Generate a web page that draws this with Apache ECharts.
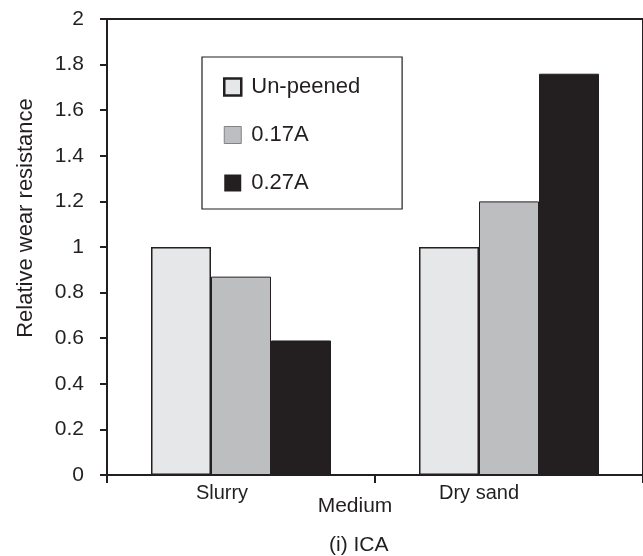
<!DOCTYPE html>
<html>
<head>
<meta charset="utf-8">
<script src="https://cdn.jsdelivr.net/npm/echarts@6/dist/echarts.min.js"></script>
<style>html,body{margin:0;padding:0;background:#fff;}#c{width:643px;height:556px;}</style>
</head>
<body>
<div id="c"></div>
<script>
const categories = ['Slurry', 'Dry sand'];
const seriesNames = ['Un-peened', '0.17A', '0.27A'];
const unPeened = [1.0, 1.0];
const a017 = [0.87, 1.20];
const a027 = [0.59, 1.76];
const yTicks = [0, 0.2, 0.4, 0.6, 0.8, 1, 1.2, 1.4, 1.6, 1.8, 2];

const FONT = "'Liberation Sans', Arial, sans-serif";
const DARK = '#231f20';
const fills = ['#e6e7e8', '#bcbec0', '#231f20'];
const values = [unPeened, a017, a027];

const chart = echarts.init(document.getElementById('c'), null, {renderer: 'canvas'});
chart.setOption({
  animation: false,
  backgroundColor: '#ffffff',
  textStyle: {fontFamily: FONT, color: DARK},
  title: {
    text: '(i) ICA',
    left: 324, top: 530,
    textStyle: {fontFamily: FONT, fontSize: 21, fontWeight: 'normal', color: DARK}
  },
  grid: {
    left: 107, top: 19, width: 538, height: 456,
    show: true, borderWidth: 2, borderColor: DARK, backgroundColor: 'transparent'
  },
  legend: {
    orient: 'vertical',
    left: 202, top: 57,
    padding: [19, 42, 15, 21],
    itemGap: 26,
    itemWidth: 17, itemHeight: 17,
    icon: 'rect',
    borderColor: DARK, borderWidth: 1.2,
    backgroundColor: '#fff',
    textStyle: {fontFamily: FONT, fontSize: 22, color: DARK, padding: [0, 0, 0, 5]},
    data: [
      {name: seriesNames[0], itemStyle: {borderWidth: 2.5, borderColor: DARK}},
      {name: seriesNames[1], itemStyle: {borderWidth: 1, borderColor: '#808285'}},
      {name: seriesNames[2], itemStyle: {borderWidth: 0}}
    ]
  },
  xAxis: {
    type: 'category',
    data: categories,
    name: 'Medium',
    nameLocation: 'middle',
    nameGap: 21,
    nameMoveOverlap: false,
    nameTextStyle: {fontFamily: FONT, fontSize: 21, color: DARK, padding: [0, 40, 0, 0]},
    axisLine: {lineStyle: {color: DARK, width: 2}},
    axisTick: {show: true, length: 8, lineStyle: {color: DARK, width: 2}},
    axisLabel: {
      margin: 8,
      fontFamily: FONT, fontSize: 20, color: DARK,
      formatter: function (v, i) { return '{c' + i + '|' + v + '}'; },
      rich: {
        c0: {fontFamily: FONT, fontSize: 20, color: DARK, padding: [0, 38, 0, 0]},
        c1: {fontFamily: FONT, fontSize: 20, color: DARK, padding: [0, 60, 0, 0]}
      }
    },
    splitLine: {show: false}
  },
  yAxis: {
    type: 'value',
    min: yTicks[0], max: yTicks[yTicks.length - 1], interval: 0.2,
    name: 'Relative wear resistance',
    nameLocation: 'middle',
    nameGap: 70,
    nameRotate: 90,
    nameTextStyle: {fontFamily: FONT, fontSize: 22, color: DARK, padding: [0, 0, 0, 58]},
    axisLine: {show: true, lineStyle: {color: DARK, width: 2}},
    axisTick: {show: true, length: 7, lineStyle: {color: DARK, width: 2}},
    axisLabel: {margin: 23, fontFamily: FONT, fontSize: 21, color: DARK},
    splitLine: {show: false}
  },
  series: seriesNames.map(function (n, k) {
    return {
      name: n,
      type: 'bar',
      data: values[k],
      barWidth: 60,
      barGap: '0%',
      itemStyle: {color: fills[k], borderColor: DARK, borderWidth: k === 0 ? 1.5 : 1}
    };
  })
});
</script>
</body>
</html>
